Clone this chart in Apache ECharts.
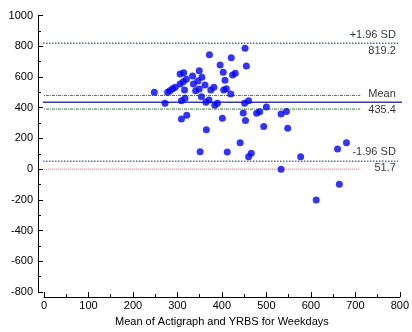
<!DOCTYPE html>
<html>
<head>
<meta charset="utf-8">
<script src="https://cdn.jsdelivr.net/npm/echarts@6/dist/echarts.min.js"></script>
<style>html,body{margin:0;padding:0;background:#fff}#c{width:412px;height:332px}</style>
</head>
<body>
<div id="c"></div>
<script>
// Mean of the two methods (x) and difference (y)
const meanValues = [248,272,278,283,289,295,306,314,306,313,320,316,309,317,309,321,334,349,336,346,355,341,349,362,354,364,371,375,382,372,365,351,384,390,396,403,407,404,410,420,401,412,421,424,430,441,452,455,451,460,448,453,460,466,478,485,494,500,533,545,548,533,577,660,680,664,612];
const diffValues = [500,429,500,511,524,533,619,628,554,569,585,515,446,461,327,351,606,641,554,574,598,511,522,548,472,435,450,515,533,745,257,114,416,429,678,630,578,515,524,489,331,112,725,613,624,172,787,671,429,446,366,316,81,103,364,374,277,405,359,375,266,-1,81,131,172,-98,-200];

// Reference lines
const upperSD = 819.2;
const meanDiff = 435.4;
const lowerSD = 51.7;
const meanCIUpper = 480;
const meanCILower = 391;
const zeroLine = 0;

// Reference line labels
const refLabelsTop = ['+1.96 SD', 'Mean', '-1.96 SD'];
const refLabelsBottom = ['819.2', '435.4', '51.7'];
const refLabelValues = [upperSD, meanDiff, lowerSD];

const xTicks = [0,100,200,300,400,500,600,700,800];
const yTicks = [-800,-600,-400,-200,0,200,400,600,800,1000];

const FONT = '"Liberation Sans", Arial, sans-serif';

const chart = echarts.init(document.getElementById('c'), null, {renderer: 'canvas'});

function hline(y, x0, x1, color, type, width) {
  return {
    type: 'line', data: [[x0, y], [x1, y]], showSymbol: false, symbol: 'none', clip: false,
    lineStyle: {color: color, type: type, width: width}, silent: true, z: 1, animation: false
  };
}

const labelData = refLabelValues.map((v, i) => ({
  value: [791, v],
  label: {
    formatter: '{a|' + refLabelsTop[i] + '}\n{a|' + refLabelsBottom[i] + '}',
    offset: i === 2 ? [0, -1.5] : [0, 0]
  }
}));

chart.setOption({
  animation: false,
  grid: {left: 44, right: 10, top: 15.5, bottom: 39.8, containLabel: false},
  xAxis: {
    type: 'value', min: xTicks[0], max: xTicks[xTicks.length - 1], interval: 100,
    offset: 5,
    name: 'Mean of Actigraph and YRBS for Weekdays',
    nameLocation: 'middle', nameGap: 18,
    nameTextStyle: {fontFamily: FONT, fontSize: 11, color: '#000'},
    axisLine: {show: true, onZero: false, lineStyle: {color: '#000', width: 1}},
    axisTick: {show: true, inside: true, length: 5, lineStyle: {color: '#000'}},
    minorTick: {show: true, splitNumber: 2, length: 3, lineStyle: {color: '#000'}},
    axisLabel: {fontFamily: FONT, fontSize: 11, color: '#000', margin: 3, formatter: v => String(v)},
    splitLine: {show: false}
  },
  yAxis: {
    type: 'value', min: yTicks[0], max: yTicks[yTicks.length - 1], interval: 200,
    offset: 6,
    axisLine: {show: true, onZero: false, lineStyle: {color: '#000', width: 1}},
    axisTick: {show: true, inside: true, length: 5, lineStyle: {color: '#000'}},
    minorTick: {show: true, splitNumber: 2, length: 3, lineStyle: {color: '#000'}},
    axisLabel: {fontFamily: FONT, fontSize: 11, color: '#000', margin: 5, formatter: v => String(v)},
    splitLine: {show: false}
  },
  series: [
    hline(upperSD, -9, 796, '#4d6e9e', 'dotted', 1.5),
    hline(lowerSD, -9, 796, '#4d6e9e', 'dotted', 1.5),
    hline(meanCIUpper, -9, 711, '#2f7d2f', [3, 1, 1, 1], 1),
    hline(meanCILower, -9, 711, '#2f7d2f', [3, 1, 1, 1], 1),
    hline(zeroLine, -9, 711, '#ff6a6a', 'dotted', 1),
    hline(meanDiff, -13, 822, '#3b3ba6', 'solid', 1.5),
    {
      type: 'scatter', data: meanValues.map((m, i) => [m, diffValues[i]]),
      symbolSize: 7, itemStyle: {color: '#0000ff'}, z: 3, silent: true
    },
    {
      type: 'scatter', data: labelData, symbolSize: 0, silent: true, z: 4,
      label: {
        show: true, position: 'left', distance: 0, align: 'right',
        fontFamily: FONT, fontSize: 11, color: '#000',
        rich: {a: {fontFamily: FONT, fontSize: 11, color: '#000', lineHeight: 16, align: 'right'}}
      }
    }
  ]
});
</script>
</body>
</html>
